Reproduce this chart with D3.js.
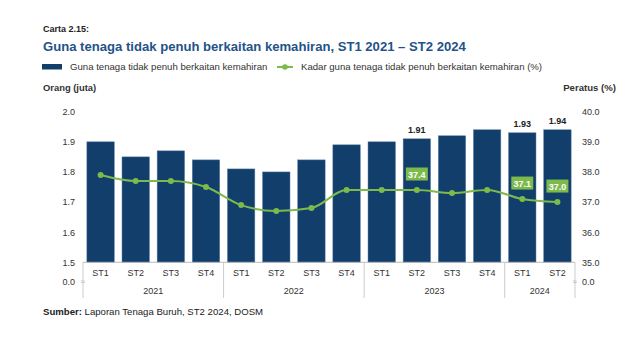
<!DOCTYPE html>
<html><head><meta charset="utf-8">
<script src="https://cdn.jsdelivr.net/npm/d3@7"></script>
<style>body{margin:0;background:#fff}svg{display:block;font-family:"Liberation Sans",Arial,sans-serif}</style>
</head><body><svg id="c" width="635" height="338"></svg>
<script>
const quarters = ["ST1","ST2","ST3","ST4","ST1","ST2","ST3","ST4","ST1","ST2","ST3","ST4","ST1","ST2"];
const years = [{label:"2021",n:4},{label:"2022",n:4},{label:"2023",n:4},{label:"2024",n:2}];
const persons = [1.90,1.85,1.87,1.84,1.81,1.80,1.84,1.89,1.90,1.91,1.92,1.94,1.93,1.94];
const rate = [37.9,37.7,37.7,37.5,36.9,36.7,36.8,37.4,37.4,37.4,37.3,37.4,37.1,37.0];
const leftTicks = [1.5,1.6,1.7,1.8,1.9,2.0];
const rightTicks = [35,36,37,38,39,40];
const barLabelIdx = [9,12,13];
const rateLabelIdx = [9,12,13];

const svg = d3.select("#c");
const L=83, R=575, T=111.7, B=262.3;
const x = d3.scaleBand().domain(d3.range(quarters.length)).range([L,R]).paddingInner(0.22).paddingOuter(0.11);
const yL = d3.scaleLinear().domain([1.5,2.0]).range([B,T]);
const yR = d3.scaleLinear().domain([35,40]).range([B,T]);
const navy="#123e6b", green="#7dba4c", blue="#1f5389";

svg.append("text").attr("x",43).attr("y",32).attr("font-size",9).attr("font-weight","bold").attr("fill","#222").text("Carta 2.15:");
svg.append("text").attr("x",43).attr("y",51).attr("font-size",13.1).attr("font-weight","bold").attr("fill",blue).text("Guna tenaga tidak penuh berkaitan kemahiran, ST1 2021 – ST2 2024");

// legend
svg.append("rect").attr("x",42).attr("y",64).attr("width",20).attr("height",5.5).attr("fill",navy);
svg.append("text").attr("x",70).attr("y",70).attr("font-size",9.6).attr("fill","#333").text("Guna tenaga tidak penuh berkaitan kemahiran");
svg.append("line").attr("x1",277).attr("x2",293).attr("y1",67).attr("y2",67).attr("stroke",green).attr("stroke-width",2);
svg.append("circle").attr("cx",285).attr("cy",67).attr("r",2.8).attr("fill",green);
svg.append("text").attr("x",301).attr("y",70).attr("font-size",9.6).attr("fill","#333").text("Kadar guna tenaga tidak penuh berkaitan kemahiran (%)");

svg.append("text").attr("x",43).attr("y",91).attr("font-size",9.4).attr("font-weight","bold").attr("fill","#333").text("Orang (juta)");
svg.append("text").attr("x",616).attr("y",91).attr("text-anchor","end").attr("font-size",9.6).attr("font-weight","bold").attr("fill","#333").text("Peratus (%)");

// axes
const la = svg.append("g").attr("transform",`translate(${L-8},0)`)
  .call(d3.axisLeft(yL).tickValues(leftTicks).tickFormat(d3.format(".1f")).tickSize(0).tickPadding(0));
la.select(".domain").remove();
la.selectAll("text").attr("font-size",9).attr("fill","#333").attr("font-family","Liberation Sans, Arial, sans-serif");
const ra = svg.append("g").attr("transform",`translate(${R+7},0)`)
  .call(d3.axisRight(yR).tickValues(rightTicks).tickFormat(d3.format(".1f")).tickSize(0).tickPadding(0));
ra.select(".domain").remove();
ra.selectAll("text").attr("font-size",9).attr("fill","#333").attr("font-family","Liberation Sans, Arial, sans-serif");

// zero labels with break
svg.append("text").attr("x",L-8).attr("y",285).attr("text-anchor","end").attr("font-size",9).attr("fill","#333").text("0.0");
svg.append("text").attr("x",R+7).attr("y",285).attr("font-size",9).attr("fill","#333").text("0.0");
[L,R].forEach(xx=>svg.append("text").attr("x",xx).attr("y",284).attr("text-anchor","middle").attr("font-size",7).attr("fill","#888").text("≈"));

// bars
svg.selectAll("rect.bar").data(persons).join("rect").attr("class","bar")
  .attr("x",(d,i)=>x(i)).attr("width",x.bandwidth())
  .attr("y",d=>yL(d)).attr("height",d=>B-yL(d))
  .attr("fill",navy).attr("stroke","#5a7fa5").attr("stroke-width",0.5);

// x axis line & group separators
svg.append("line").attr("x1",L).attr("x2",R).attr("y1",B).attr("y2",B).attr("stroke","#bbb").attr("stroke-width",1);
let idx=0;
const seps=[L];
years.forEach(y=>{ const s=idx; idx+=y.n;
  const x0=x(s)-x.step()*x.paddingInner()/2, x1=x(idx-1)+x.bandwidth()+x.step()*x.paddingInner()/2;
  svg.append("text").attr("x",(x0+x1)/2).attr("y",294).attr("text-anchor","middle").attr("font-size",9).attr("fill","#333").text(y.label);
  seps.push(idx===quarters.length?R:x(idx)-x.step()*x.paddingInner()/2);
});
seps.forEach(s=>svg.append("line").attr("x1",s).attr("x2",s).attr("y1",B).attr("y2",298).attr("stroke","#ccc").attr("stroke-width",1));
svg.selectAll("text.q").data(quarters).join("text").attr("class","q")
  .attr("x",(d,i)=>x(i)+x.bandwidth()/2).attr("y",276).attr("text-anchor","middle").attr("font-size",9).attr("fill","#333").text(d=>d);

// line
const cx=i=>x(i)+x.bandwidth()/2;
svg.append("path").datum(rate).attr("fill","none").attr("stroke",green).attr("stroke-width",2)
  .attr("d",d3.line().x((d,i)=>cx(i)).y(d=>yR(d)).curve(d3.curveMonotoneX));
svg.selectAll("circle.pt").data(rate).join("circle").attr("class","pt")
  .attr("cx",(d,i)=>cx(i)).attr("cy",d=>yR(d)).attr("r",3).attr("fill",green);

// bar labels
barLabelIdx.forEach(i=>svg.append("text").attr("x",cx(i)).attr("y",yL(persons[i])-6).attr("text-anchor","middle")
  .attr("font-size",9).attr("font-weight","bold").attr("fill","#222").text(persons[i].toFixed(2)));
// rate labels
rateLabelIdx.forEach(i=>{
  const yy=yR(rate[i])-16;
  svg.append("rect").attr("x",cx(i)-11).attr("y",yy-6.5).attr("width",22).attr("height",13).attr("fill",green);
  svg.append("text").attr("x",cx(i)).attr("y",yy+3.5).attr("text-anchor","middle").attr("font-size",9).attr("font-weight","bold").attr("fill","#fff").text(rate[i].toFixed(1));
});

svg.append("text").attr("x",43).attr("y",315).attr("font-size",9.6).attr("fill","#222")
  .html('<tspan font-weight="bold">Sumber:</tspan> Laporan Tenaga Buruh, ST2 2024, DOSM');
</script></body></html>
